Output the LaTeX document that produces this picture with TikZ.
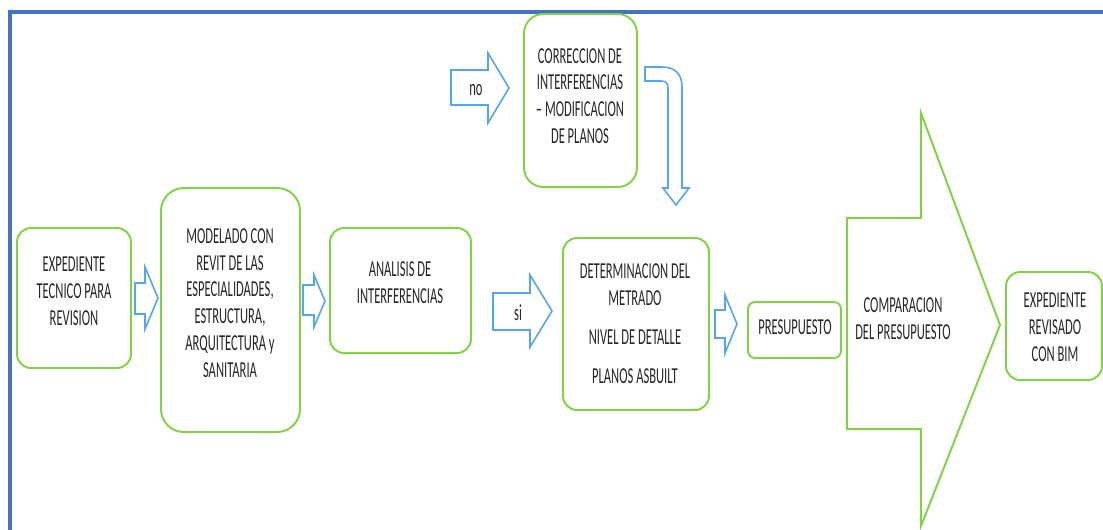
\documentclass[tikz,border=0pt]{standalone}
\usepackage{fontspec}
\setmainfont{Carlito}[FakeStretch=0.55]
\definecolor{boxgreen}{RGB}{125,214,62}
\definecolor{arrblue}{RGB}{85,165,240}
\definecolor{frameblue}{RGB}{68,114,196}
\tikzset{
  box/.style={draw=boxgreen, line width=1.1pt, rounded corners=8pt},
  barrow/.style={draw=arrblue, line width=0.9pt, line join=miter},
  lbl/.style={align=center, text=black!85, font=\fontsize{13}{15.3}\selectfont}
}
\begin{document}
\begin{tikzpicture}[x=0.02cm, y=-0.02cm]
\useasboundingbox (0,0) rectangle (1103,529);
\draw[frameblue, line width=2.4pt] (10,535) -- (10,12) -- (1110,12);
% boxes
\draw[box] (17,228) rectangle (131,368);
\draw[box, rounded corners=13pt] (161,188) rectangle (300,432);
\draw[box] (330,228) rectangle (471,353);
\draw[box, rounded corners=11pt] (524,14) rectangle (637,187);
\draw[box] (563,238) rectangle (709,410);
\draw[box, rounded corners=4pt] (748,302) rectangle (841,358);
\draw[box] (1006,272) rectangle (1102,380);
\draw[boxgreen, line width=1.1pt] (847,218) -- (921,218) -- (921,113) -- (1000,325) -- (921,526) -- (921,429) -- (847,429) -- cycle;
% block arrows
\draw[barrow] (135,283) -- (145,283) -- (145,267) -- (158,298) -- (145,329) -- (145,314) -- (135,314) -- cycle;
\draw[barrow] (303,285) -- (314,285) -- (314,275) -- (325,301) -- (314,327) -- (314,315) -- (303,315) -- cycle;
\draw[barrow] (493,293) -- (530,293) -- (530,275) -- (552,311) -- (530,347) -- (530,330) -- (493,330) -- cycle;
\draw[barrow] (715,310) -- (725,310) -- (725,295) -- (737,324) -- (725,353) -- (725,338) -- (715,338) -- cycle;
\draw[barrow] (451,70) -- (488,70) -- (488,53) -- (509,88) -- (488,123) -- (488,105) -- (451,105) -- cycle;
\draw[barrow] (645,67) -- (662,67) .. controls (675,67) and (682,74) .. (682,87) -- (682,188) -- (689,188) -- (676,205) -- (663,188) -- (668,188) -- (668,88) .. controls (668,84) and (666,81) .. (662,81) -- (645,81) -- cycle;
% texts
\node[lbl] (exp) at (74,291) {EXPEDIENTE\\TECNICO PARA\\REVISION};
\node[lbl] (mod) at (230,303) {MODELADO CON\\REVIT DE LAS\\ESPECIALIDADES,\\ESTRUCTURA,\\ARQUITECTURA y\\SANITARIA};
\node[lbl] (ana) at (400,283) {ANALISIS DE\\INTERFERENCIAS};
\node[lbl] (cor) at (580,96) {CORRECCION DE\\INTERFERENCIAS\\-- MODIFICACION\\DE PLANOS};
\node[lbl] (det) at (635,324) {DETERMINACION DEL\\METRADO\\[7pt]NIVEL DE DETALLE\\[7pt]PLANOS ASBUILT};
\node[lbl] (pre) at (795,327) {PRESUPUESTO};
\node[lbl] (com) at (903,319) {COMPARACION\\DEL PRESUPUESTO};
\node[lbl] (rev) at (1055,327) {EXPEDIENTE\\REVISADO\\CON BIM};
\node[lbl] (si) at (518,313) {si};
\node[lbl] (no) at (476,90) {no};
\end{tikzpicture}
\end{document}
